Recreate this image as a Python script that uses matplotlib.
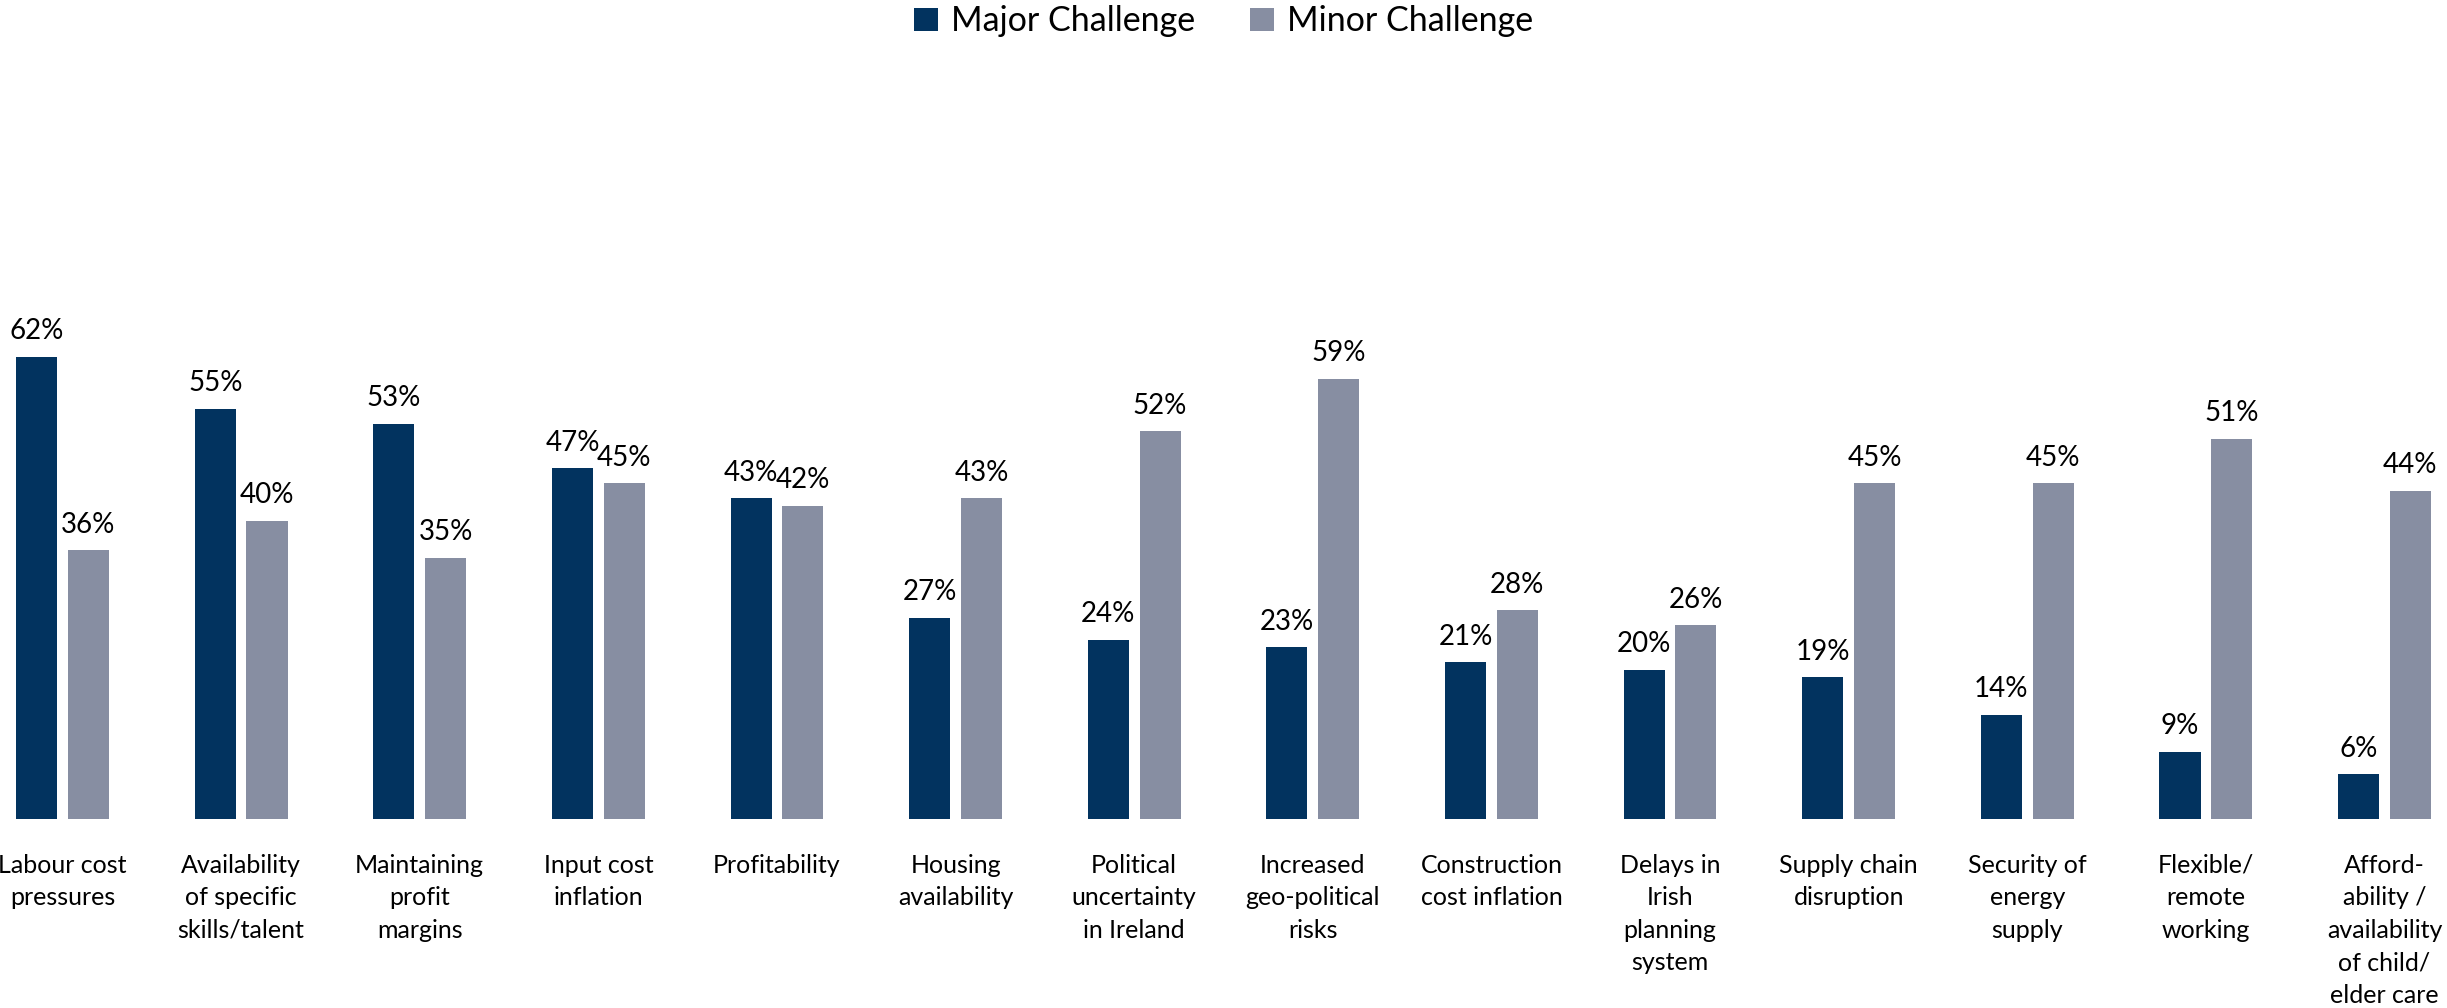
import numpy as np
import matplotlib
matplotlib.use("Agg")
import matplotlib.pyplot as plt

plt.rcParams['font.family'] = ['Lato', 'DejaVu Sans']

# Datos
categories = [
    "Labour cost\npressures",
    "Availability\nof specific\nskills/talent",
    "Maintaining\nprofit\nmargins",
    "Input cost\ninflation",
    "Profitability",
    "Housing\navailability",
    "Political\nuncertainty\nin Ireland",
    "Increased\ngeo-political\nrisks",
    "Construction\ncost inflation",
    "Delays in\nIrish\nplanning\nsystem",
    "Supply chain\ndisruption",
    "Security of\nenergy\nsupply",
    "Flexible/\nremote\nworking",
    "Afford-\nability /\navailability\nof child/\nelder care",
]
major = [62, 55, 53, 47, 43, 27, 24, 23, 21, 20, 19, 14, 9, 6]
minor = [36, 40, 35, 45, 42, 43, 52, 59, 28, 26, 45, 45, 51, 44]

col_major = "#02335F"
col_minor = "#878EA2"

fig = plt.figure(figsize=(24.47, 10.08), dpi=100)
ax = fig.add_axes([0, 0.1875, 1, 0.8125])

x = np.arange(len(categories))
w = 0.23
off = 0.145
b1 = ax.bar(x - off, major, w, color=col_major, label="Major Challenge")
b2 = ax.bar(x + off, minor, w, color=col_minor, label="Minor Challenge")

# etiquetas de valor
for bars, vals in [(b1, major), (b2, minor)]:
    for r, v in zip(bars, vals):
        ax.annotate(f"{v}%", (r.get_x() + r.get_width() / 2, r.get_height()),
                    xytext=(0, 9), textcoords="offset points",
                    ha="center", va="bottom", fontsize=20)

ax.set_xlim(-0.35, 13.35)
ax.set_ylim(0, 109.8)
ax.set_xticks(x)
ax.set_xticklabels(categories, fontsize=18, linespacing=1.5)
ax.tick_params(axis="x", length=0, pad=25)
ax.set_yticks([])
for s in ax.spines.values():
    s.set_visible(False)

fig.legend(loc="upper center", bbox_to_anchor=(0.5, 1.025), ncol=2, frameon=False,
           fontsize=24.5, handlelength=0.7, handleheight=0.7, columnspacing=1.6,
           handletextpad=0.4)

fig.savefig("out.png", dpi=100)
